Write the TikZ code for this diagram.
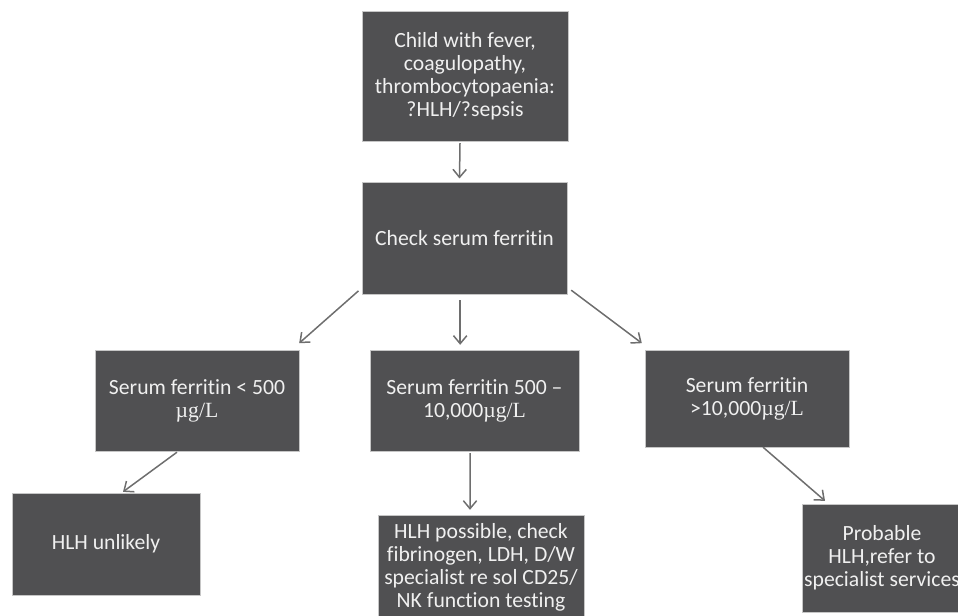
\documentclass[tikz,border=0pt]{standalone}
\usepackage{fontspec}
\setmainfont{Carlito}[Ligatures=NoCommon]
\newfontfamily\unitfont{Liberation Serif}
\usetikzlibrary{arrows.meta}
\definecolor{boxgrey}{HTML}{505052}
\definecolor{arrgrey}{HTML}{6E6E6E}
\newcommand{\ugl}{{\unitfont µg/L}}
\begin{document}
\begin{tikzpicture}[x=0.3mm,y=-0.3mm]
  \tikzset{fc/.style={draw=gray!45,line width=0.3pt,fill=boxgrey,text=white!94!black,align=center,
      font=\fontsize{18.5}{19.6}\selectfont,inner sep=1pt},
    arr/.style={draw=arrgrey,line width=0.45mm,-{Straight Barb[length=2.4mm,width=4mm]}}}
  \useasboundingbox (0,0) rectangle (958,615);
  \node[fc,minimum width=61.8mm,minimum height=39mm] (top) at (465,76)
    {Child with fever,\\coagulopathy,\\thrombocytopaenia:\\?HLH/?sepsis};
  \node[fc,minimum width=61.5mm,minimum height=33.6mm] (chk) at (464.5,238) {Check serum ferritin};
  \node[fc,minimum width=61.2mm,minimum height=30.3mm] (lo) at (197,400.5) {Serum ferritin < 500\\\ugl};
  \node[fc,minimum width=62.7mm,minimum height=30.3mm] (mid) at (474.5,400.5) {Serum ferritin 500 --\\10,000\ugl};
  \node[fc,minimum width=61.2mm,minimum height=29.1mm] (hi) at (747,398.5) {Serum ferritin\\>10,000\ugl};
  \node[fc,minimum width=56.4mm,minimum height=30.6mm] (unl) at (106,544) {HLH unlikely};
  \node[fc,minimum width=61.8mm,minimum height=31.2mm] (poss) at (481,567)
    {HLH possible, check\\fibrinogen, LDH, D/W\\specialist re sol CD25/\\NK function testing};
  \node[fc,minimum width=48mm,minimum height=32.4mm] (prob) at (882,558)
    {Probable\\HLH,refer to\\specialist services};
  \draw[arr] ([xshift=-1.5mm,yshift=-0.6mm]top.south) -- ([xshift=-1.5mm,yshift=1mm]chk.north);
  \draw[arr] ([shift={(-1mm,1mm)}]chk.south west) -- ([shift={(0mm,2mm)}]lo.north east);
  \draw[arr] ([xshift=-1.3mm,yshift=-1.8mm]chk.south) -- ([xshift=-1.3mm,yshift=1.5mm]chk.south |- mid.north);
  \draw[arr] ([shift={(1.2mm,1.2mm)}]chk.south east) -- ([shift={(-0.9mm,2mm)}]hi.north west);
  \draw[arr] ([xshift=-6mm,yshift=-0.3mm]lo.south) -- ([xshift=5.1mm,yshift=0.3mm]unl.north);
  \draw[arr] ([xshift=-1.35mm,yshift=-0.6mm]mid.south) -- ([xshift=-3.3mm,yshift=1.5mm]poss.north);
  \draw[arr] ([xshift=4.8mm]hi.south) -- ([xshift=-17.1mm,yshift=0.9mm]prob.north);
\end{tikzpicture}
\end{document}
